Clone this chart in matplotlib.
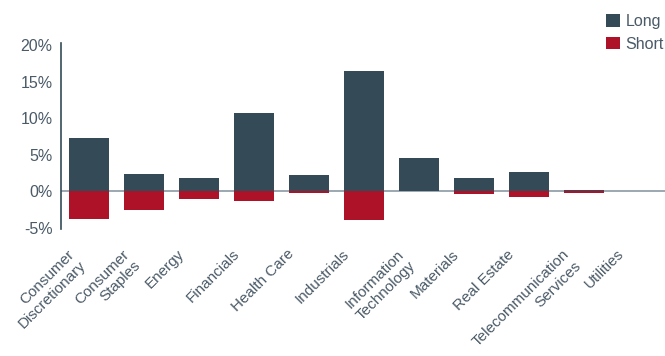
import matplotlib
matplotlib.use("Agg")
import matplotlib.pyplot as plt
from matplotlib.transforms import ScaledTranslation
import numpy as np

categories = ["Consumer\nDiscretionary", "Consumer\nStaples", "Energy", "Financials",
              "Health Care", "Industrials", "Information\nTechnology", "Materials",
              "Real Estate", "Telecommunication\nServices", "Utilities"]
long_vals = [7.3, 2.4, 1.8, 10.7, 2.2, 16.4, 4.6, 1.8, 2.6, 0.1, 0.0]
short_vals = [-3.8, -2.6, -1.1, -1.4, -0.25, -3.9, -0.05, -0.4, -0.8, -0.25, -0.05]
yticks = [-5, 0, 5, 10, 15, 20]
ytick_labels = ["-5%", "0%", "5%", "10%", "15%", "20%"]

LONG_C = "#344b57"
SHORT_C = "#ae1228"
TEXT_C = "#4a5a67"

plt.rcParams['font.family'] = ['Liberation Sans', 'DejaVu Sans']

fig = plt.figure(figsize=(6.65, 3.56), dpi=100)
ax = fig.add_axes([61/665, (356-229)/356, 1 - 61/665, (229-43)/356])

x = np.arange(len(categories))
w = 0.727
ax.bar(x, long_vals, width=w, color=LONG_C, label="Long", zorder=2)
ax.bar(x, short_vals, width=w, color=SHORT_C, label="Short", zorder=2)
ax.axhline(0, color="#8a99a4", lw=1.2, zorder=1)

ax.set_xlim(-0.509, 10.47)
ax.set_ylim(-5.2, 20.3)
ax.set_yticks(yticks)
ax.set_yticklabels(ytick_labels)
ax.tick_params(axis='y', length=0, pad=6, labelsize=11.5, labelcolor=TEXT_C)

ax.set_xticks(x)
ax.set_xticklabels(categories, rotation=45, ha='right', va='top',
                   rotation_mode='anchor')
ax.tick_params(axis='x', length=0, pad=13, labelsize=11, labelcolor=TEXT_C)
shift = ScaledTranslation(-22/100, 0, fig.dpi_scale_trans)
for lab in ax.get_xticklabels():
    lab.set_transform(lab.get_transform() + shift)

for s in ['top', 'right', 'bottom']:
    ax.spines[s].set_visible(False)
ax.spines['left'].set_color(LONG_C)
ax.spines['left'].set_linewidth(1.2)

leg = fig.legend(loc='upper right', bbox_to_anchor=(1.02, 1.0), frameon=False,
                 fontsize=11.5, labelcolor=TEXT_C, handlelength=0.85, handleheight=0.85,
                 handletextpad=0.35, labelspacing=0.45)

fig.savefig("out.png", dpi=100)
